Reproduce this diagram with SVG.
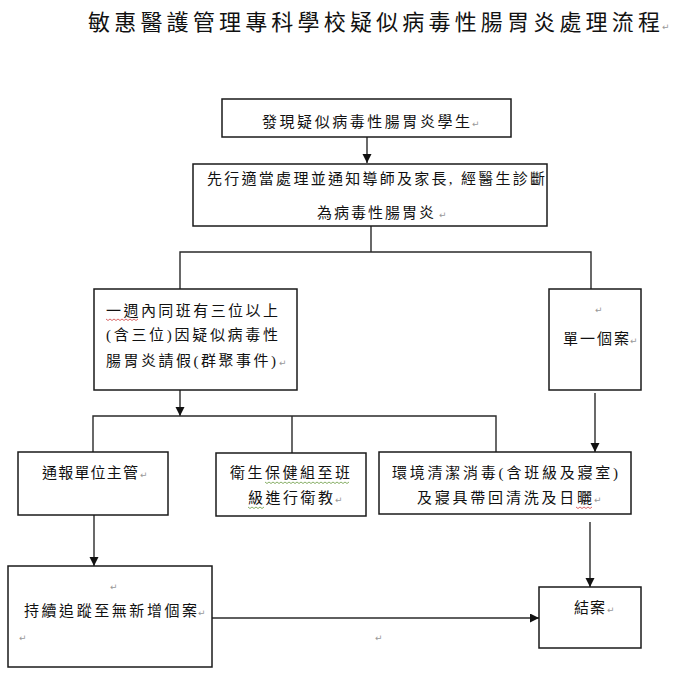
<svg xmlns="http://www.w3.org/2000/svg" width="700" height="674" viewBox="0 0 700 674">
<style>
.bg{fill:#fff}
.box{fill:#fff;stroke:#1a1a1a;stroke-width:1.5}
.t{font-family:"Liberation Serif","Noto Sans CJK TC",serif;font-size:15px;fill:#111}
.title{font-family:"Liberation Serif","Noto Sans CJK TC",serif;font-size:22px;fill:#111}
.pm{font-family:"DejaVu Sans",sans-serif;font-size:9px;fill:#999}
.c{fill:none;stroke:#2a2a2a;stroke-width:1.4}
.wr{fill:none;stroke:#d04040;stroke-width:0.8}
.wg{fill:none;stroke:#6a9a40;stroke-width:0.8}
</style>
<defs>
<marker id="ah" markerUnits="userSpaceOnUse" markerWidth="10" markerHeight="10" refX="9" refY="4.5" orient="auto">
<path d="M0,0 L9,4.5 L0,9 Z" fill="#111"/>
</marker>
</defs>
<rect class="bg" x="0" y="0" width="700" height="674"/>
<g id="title">
<text class="title" x="88" y="30" textLength="572" lengthAdjust="spacing">敏惠醫護管理專科學校疑似病毒性腸胃炎處理流程</text>
<text class="pm" x="662" y="30">↵</text>
</g>
<g id="connectors">
<path class="c" d="M367,137 V163" marker-end="url(#ah)"/>
<path class="c" d="M371,226 V252 M180,289 V252 H591 V289"/>
<path class="c" d="M180,390 V416" marker-end="url(#ah)"/>
<path class="c" d="M93,452 V416 H496 V452 M292,416 V453"/>
<path class="c" d="M595,393 V452" marker-end="url(#ah)"/>
<path class="c" d="M94,515 V566" marker-end="url(#ah)"/>
<path class="c" d="M212,618 H539" marker-end="url(#ah)"/>
<path class="c" d="M590,522 V587" marker-end="url(#ah)"/>
</g>
<g id="n1">
<rect class="box" x="222" y="99" width="289" height="38"/>
<text class="t" x="262" y="127" textLength="208" lengthAdjust="spacing">發現疑似病毒性腸胃炎學生</text>
<text class="pm" x="472" y="127">↵</text>
</g>
<g id="n2">
<rect class="box" x="193" y="164" width="354" height="62"/>
<text class="t" x="207" y="184" textLength="338" lengthAdjust="spacing">先行適當處理並通知導師及家長, 經醫生診斷</text>
<text class="t" x="317" y="218" textLength="117" lengthAdjust="spacing">為病毒性腸胃炎</text>
<text class="pm" x="439" y="218">↵</text>
</g>
<g id="n3">
<rect class="box" x="94" y="289" width="203" height="101"/>
<text class="t" x="106" y="316" textLength="172" lengthAdjust="spacing">一週內同班有三位以上</text>
<path class="wr" d="M106,319 l2,1.5 l2,-1.5 l2,1.5 l2,-1.5 l2,1.5 l2,-1.5 l2,1.5 l2,-1.5 l2,1.5 l2,-1.5 l2,1.5 l2,-1.5 l2,1.5 l2,-1.5 l2,1.5 l2,-1.5"/>
<text class="t" x="106" y="340" textLength="172" lengthAdjust="spacing">(含三位)因疑似病毒性</text>
<text class="t" x="106" y="366" textLength="170" lengthAdjust="spacing">腸胃炎請假(群聚事件)</text>
<text class="pm" x="279" y="366">↵</text>
</g>
<g id="n4">
<rect class="box" x="549" y="289" width="92" height="101"/>
<text class="pm" x="595" y="313">↵</text>
<text class="t" x="563" y="344" textLength="66" lengthAdjust="spacing">單一個案</text>
<text class="pm" x="630" y="344">↵</text>
</g>
<g id="n5">
<rect class="box" x="18" y="452" width="150" height="63"/>
<text class="t" x="42" y="478" textLength="96" lengthAdjust="spacing">通報單位主管</text>
<text class="pm" x="140" y="478">↵</text>
</g>
<g id="n6">
<rect class="box" x="216" y="453" width="150" height="63"/>
<text class="t" x="230" y="478" textLength="120" lengthAdjust="spacing">衛生保健組至班</text>
<path class="wg" d="M265,482 l2,1.5 l2,-1.5 l2,1.5 l2,-1.5 l2,1.5 l2,-1.5 l2,1.5 l2,-1.5 l2,1.5 l2,-1.5 l2,1.5 l2,-1.5 l2,1.5 l2,-1.5 l2,1.5 l2,-1.5 l2,1.5 l2,-1.5 l2,1.5 l2,-1.5 l2,1.5 l2,-1.5 l2,1.5 l2,-1.5 l2,1.5 l2,-1.5 l2,1.5 l2,-1.5 l2,1.5 l2,-1.5 l2,1.5 l2,-1.5 l2,1.5 l2,-1.5 l2,1.5 l2,-1.5 l2,1.5 l2,-1.5 l2,1.5 l2,-1.5 l2,1.5 l2,-1.5"/>
<text class="t" x="248" y="503" textLength="85" lengthAdjust="spacing">級進行衛教</text>
<path class="wg" d="M248,507 l2,1.5 l2,-1.5 l2,1.5 l2,-1.5 l2,1.5 l2,-1.5 l2,1.5 l2,-1.5"/>
<text class="pm" x="335" y="503">↵</text>
</g>
<g id="n7">
<rect class="box" x="379" y="452" width="252" height="62"/>
<text class="t" x="392" y="478" textLength="226" lengthAdjust="spacing">環境清潔消毒(含班級及寢室)</text>
<text class="t" x="417" y="503" textLength="175" lengthAdjust="spacing">及寢具帶回清洗及日曬</text>
<path class="wr" d="M576,507 l2,1.5 l2,-1.5 l2,1.5 l2,-1.5 l2,1.5 l2,-1.5 l2,1.5 l2,-1.5"/>
<text class="pm" x="594" y="503">↵</text>
</g>
<g id="n8">
<rect class="box" x="8" y="566" width="204" height="101"/>
<text class="pm" x="110" y="590">↵</text>
<text class="t" x="24" y="616" textLength="173" lengthAdjust="spacing">持續追蹤至無新增個案</text>
<text class="pm" x="198" y="616">↵</text>
<text class="pm" x="19" y="641">↵</text>
</g>
<text class="pm" x="375" y="641">↵</text>
<g id="n9">
<rect class="box" x="539" y="587" width="102" height="61"/>
<text class="t" x="574" y="613" textLength="31" lengthAdjust="spacing">結案</text>
<text class="pm" x="607" y="613">↵</text>
</g>
</svg>
